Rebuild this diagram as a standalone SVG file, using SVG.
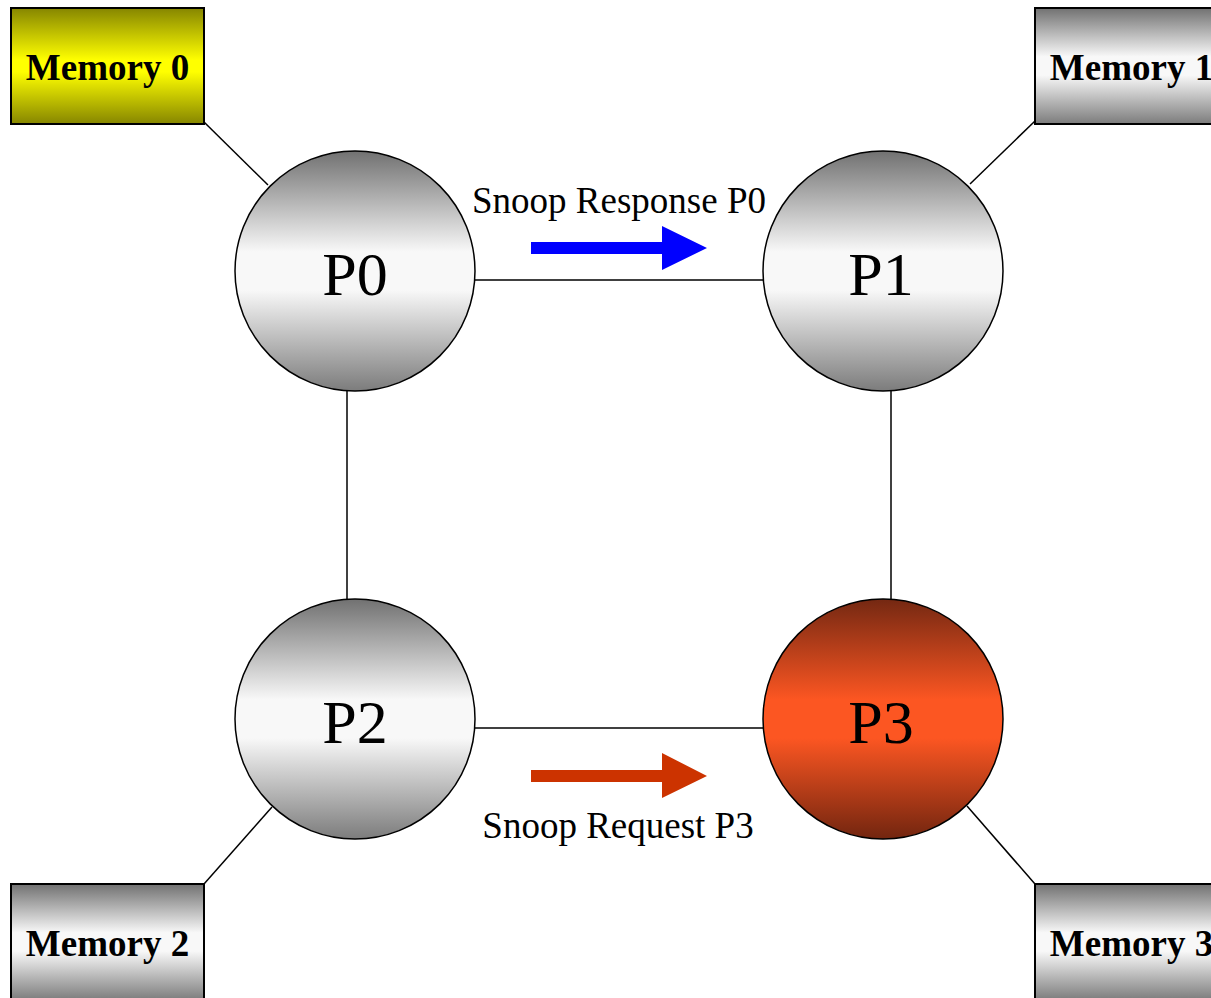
<svg xmlns="http://www.w3.org/2000/svg" width="1211" height="998" viewBox="0 0 1211 998">
  <defs>
    <linearGradient id="gGray" x1="0" y1="0" x2="0" y2="1">
      <stop offset="0" stop-color="#717171"/>
      <stop offset="0.42" stop-color="#f8f8f8"/>
      <stop offset="0.58" stop-color="#f8f8f8"/>
      <stop offset="1" stop-color="#7c7c7c"/>
    </linearGradient>
    <linearGradient id="gYellow" x1="0" y1="0" x2="0" y2="1">
      <stop offset="0" stop-color="#868600"/>
      <stop offset="0.45" stop-color="#ffff00"/>
      <stop offset="0.55" stop-color="#ffff00"/>
      <stop offset="1" stop-color="#868600"/>
    </linearGradient>
    <linearGradient id="gRed" x1="0" y1="0" x2="0" y2="1">
      <stop offset="0" stop-color="#742812"/>
      <stop offset="0.42" stop-color="#fc5622"/>
      <stop offset="0.58" stop-color="#fc5622"/>
      <stop offset="1" stop-color="#72250f"/>
    </linearGradient>
    <style>
      .link { stroke: #000; stroke-width: 1.5; fill: none; }
      .mem { stroke: #000; stroke-width: 2; }
      .cpu { stroke: #000; stroke-width: 1.5; }
      .memText { font-family: "Liberation Serif", "Times New Roman", serif; font-weight: bold; font-size: 37px; text-anchor: middle; fill: #000; }
      .cpuText { font-family: "Liberation Serif", "Times New Roman", serif; font-size: 62px; text-anchor: middle; fill: #000; }
      .label { font-family: "Liberation Serif", "Times New Roman", serif; font-size: 37px; text-anchor: middle; fill: #000; }
    </style>
  </defs>

  <rect width="1211" height="998" fill="#fff"/>

  <!-- connectors -->
  <g id="connectors">
    <line class="link" x1="475" y1="280" x2="763" y2="280"/>
    <line class="link" x1="475" y1="728" x2="763" y2="728"/>
    <line class="link" x1="347" y1="391" x2="347" y2="599"/>
    <line class="link" x1="891" y1="391" x2="891" y2="599"/>
    <line class="link" x1="204" y1="122" x2="268" y2="185"/>
    <line class="link" x1="1035" y1="121" x2="970" y2="184"/>
    <line class="link" x1="204" y1="884" x2="272" y2="807"/>
    <line class="link" x1="1035" y1="884" x2="967" y2="806"/>
  </g>

  <!-- memory banks -->
  <g id="memory0">
    <rect class="mem" x="11" y="8" width="193" height="116" fill="url(#gYellow)"/>
    <text class="memText" x="107.5" y="80">Memory 0</text>
  </g>
  <g id="memory1">
    <rect class="mem" x="1035" y="8" width="193" height="116" fill="url(#gGray)"/>
    <text class="memText" x="1131.5" y="80">Memory 1</text>
  </g>
  <g id="memory2">
    <rect class="mem" x="11" y="884" width="193" height="116" fill="url(#gGray)"/>
    <text class="memText" x="107.5" y="956">Memory 2</text>
  </g>
  <g id="memory3">
    <rect class="mem" x="1035" y="884" width="193" height="116" fill="url(#gGray)"/>
    <text class="memText" x="1131.5" y="956">Memory 3</text>
  </g>

  <!-- processors -->
  <g id="P0">
    <circle class="cpu" cx="355" cy="271" r="120" fill="url(#gGray)"/>
    <text class="cpuText" x="355" y="295">P0</text>
  </g>
  <g id="P1">
    <circle class="cpu" cx="883" cy="271" r="120" fill="url(#gGray)"/>
    <text class="cpuText" x="881" y="295">P1</text>
  </g>
  <g id="P2">
    <circle class="cpu" cx="355" cy="719" r="120" fill="url(#gGray)"/>
    <text class="cpuText" x="355" y="743">P2</text>
  </g>
  <g id="P3">
    <circle class="cpu" cx="883" cy="719" r="120" fill="url(#gRed)"/>
    <text class="cpuText" x="881" y="743">P3</text>
  </g>

  <!-- message arrows and labels -->
  <g id="snoopResponse">
    <polygon fill="#0000ff" points="531,242 662,242 662,226 707,248 662,270 662,254 531,254"/>
    <text class="label" x="619" y="213">Snoop Response P0</text>
  </g>
  <g id="snoopRequest">
    <polygon fill="#cc3300" points="531,770 662,770 662,753 707,776 662,798 662,782 531,782"/>
    <text class="label" x="618" y="838">Snoop Request P3</text>
  </g>
</svg>
